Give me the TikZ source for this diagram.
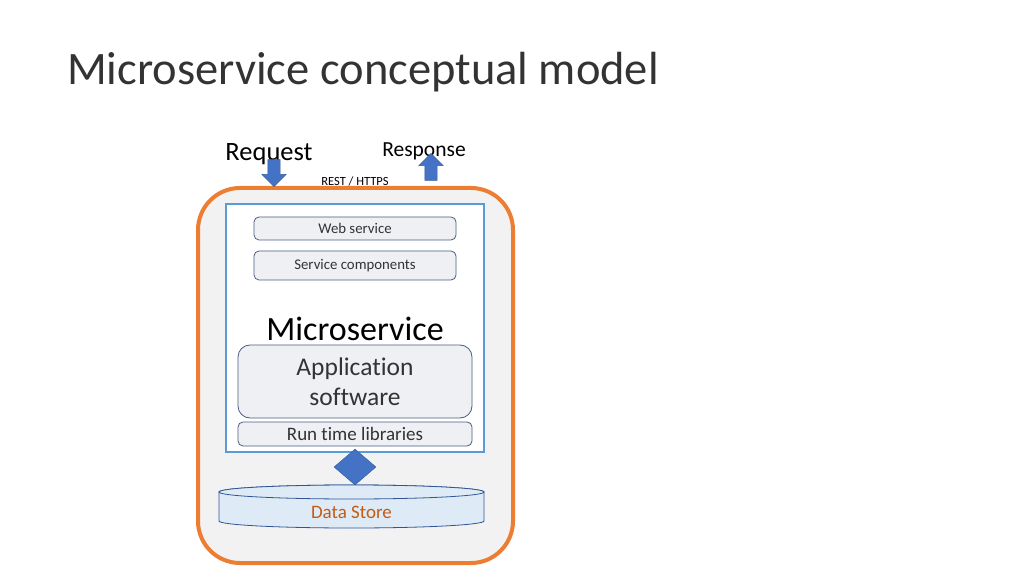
\documentclass[tikz,border=0pt]{standalone}
\usepackage{fontspec}
\setmainfont{Carlito}[Ligatures=NoCommon]
\usetikzlibrary{positioning,shapes.geometric,shapes.arrows}
\definecolor{msorange}{HTML}{ED7D31}
\definecolor{msblue}{HTML}{5B9BD5}
\definecolor{msgray}{HTML}{F2F2F2}
\definecolor{boxfill}{HTML}{EEF0F4}
\definecolor{boxline}{HTML}{4A5C82}
\definecolor{arrowblue}{HTML}{4472C4}
\definecolor{storefill}{HTML}{DEEBF7}
\definecolor{storeline}{HTML}{2F5597}
\definecolor{storetext}{HTML}{C55A11}
\definecolor{txt}{HTML}{333333}
\tikzset{
  container/.style={
    draw=msorange, line width=4pt,
    fill=msgray,
    rounded corners=42pt},
  service/.style={
    draw=msblue, line width=2pt,
    fill=white},
  layer/.style={
    rectangle,
    rounded corners=5pt,
    draw=boxline, line width=0.8pt,
    fill=boxfill,
    text=txt,
    inner sep=0pt,
    text centered},
  blockarrow/.style={
    single arrow,
    fill=arrowblue, draw=arrowblue!80!black, thin,
    inner xsep=0pt, inner ysep=6pt,
    single arrow head extend=6pt,
    minimum height=27pt},
  link/.style={
    diamond,
    fill=arrowblue, draw=arrowblue!80!black, thin,
    inner sep=0pt,
    minimum width=42pt, minimum height=36pt},
  store/.style={
    draw=storeline, thick,
    fill=storefill}
}
\begin{document}
\begin{tikzpicture}[x=1pt,y=1pt]
  \useasboundingbox (0,0) rectangle (1024,576);

  \node[anchor=base west, inner sep=0pt, text=txt,
    font=\fontsize{46.5}{52}\selectfont] (title) at (67,491)
    {Microservice conceptual model};

  % outer container and microservice box
  \draw[container] (198,388) rectangle (513,13);
  \draw[service] (226,372) rectangle (484,124);

  \node[layer, minimum width=202pt, minimum height=23pt,
    font=\fontsize{14.8}{17}\selectfont] (web) at (355,347.5) {Web service};
  \node[layer, minimum width=202pt, minimum height=29pt,
    font=\fontsize{14.8}{17}\selectfont] (components) at (355,310.5) {Service components};

  \node[text=black, font=\fontsize{34}{38}\selectfont] (micro) at (355,247) {Microservice};

  \node[layer, rounded corners=12pt, minimum width=234pt, minimum height=73pt,
    align=center, font=\fontsize{25.5}{30.5}\selectfont] (app) at (355,194.5)
    {Application\\software};
  \node[layer, minimum width=234pt, minimum height=24pt,
    font=\fontsize{19}{22}\selectfont] (runtime) at (355,142) {Run time libraries};

  \node[link] (access) at (355,109) {};

  % data store cylinder
  \draw[store] (219,84) -- (219,55)
    arc[start angle=180, end angle=360, x radius=132.5, y radius=7]
    -- (484,84)
    arc[start angle=0, end angle=180, x radius=132.5, y radius=7] -- cycle;
  \draw[store] (351.5,84) ellipse[x radius=132.5, y radius=7];
  \node[text=storetext, font=\fontsize{19}{22}\selectfont] (store) at (351.5,64) {Data Store};

  % request / response
  \node[text=black, font=\fontsize{26.5}{30}\selectfont] (request) at (269,422) {Request};
  \node[text=black, font=\fontsize{21.5}{25}\selectfont] (response) at (424,425) {Response};
  \node[blockarrow, rotate=-90] (in) at (274,406) {};
  \node[blockarrow, rotate=90] (out) at (431,406) {};
  \node[text=black, font=\fontsize{12.5}{14}\selectfont] (rest) at (355,395) {REST / HTTPS};
\end{tikzpicture}
\end{document}
